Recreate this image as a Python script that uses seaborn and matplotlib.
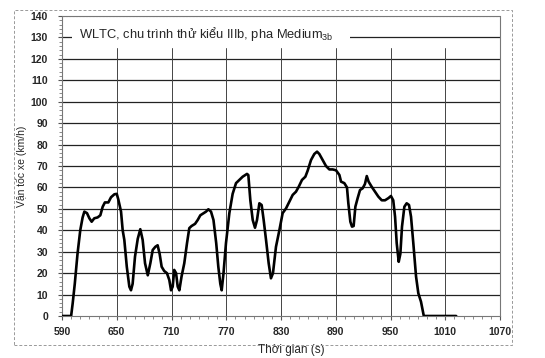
import numpy as np
import pandas as pd
import matplotlib
matplotlib.use("Agg")
import matplotlib.pyplot as plt
import seaborn as sns
from matplotlib.patches import Rectangle
from matplotlib.ticker import MultipleLocator

# --- DU LIEU (doc tu hinh) ---
time_s = [589, 600, 601.7, 604, 607, 610, 612.6, 614.5, 617.4, 620, 622.5, 625.4, 629, 632,
          634.6, 637, 640.8, 643.7, 647.4, 650, 651.7, 654.7, 656.5, 658.3, 661, 663.8, 665.6,
          667.4, 670, 673, 675.8, 678.4, 681, 684, 686.8, 689.4, 692.3, 694.8, 697, 699.2, 702,
          705, 707.6, 709.5, 711.3, 713, 715, 716.8, 718.6, 721, 724, 727, 729.5, 732, 735.8,
          738.7, 741.6, 745.3, 747.8, 750.4, 753.3, 756, 759, 761.3, 763.5, 765, 767, 769.7,
          773.4, 777, 780.7, 784.3, 788, 792.7, 794.2, 796.4, 799, 801.5, 803.7, 806.3, 808.8,
          811, 813.6, 816.5, 819, 821.2, 824.5, 828.2, 831.8, 835.5, 839.1, 842.8, 846.4, 849.4,
          853, 856.7, 859.2, 862.9, 866.5, 869.5, 872, 875.7, 879.3, 883, 886.6, 890.3, 894,
          895.8, 899.4, 902.3, 903.8, 906, 907.8, 909.6, 911.5, 914, 916.6, 919.5, 922, 924, 926,
          929.4, 933, 936.7, 940.4, 944, 947.7, 950.5, 953, 955, 956.8, 959, 960.8, 962.6, 965.2,
          967.7, 970.3, 972.5, 975, 978, 980.5, 983.4, 986.5, 1000, 1022]
speed_kmh = [0, 0, 5.9, 15, 29, 40, 46, 48.7, 48, 45.6, 44, 45.6, 46, 47,
             51, 53, 53, 55.4, 56.8, 57, 54.4, 48.7, 40, 35.5, 23, 13.7, 12,
             15, 27.7, 36, 40.5, 35.5, 24.6, 19, 24.6, 30.8, 32.3, 33, 29, 23, 21,
             20, 16.8, 12, 13.7, 21.5, 20, 13.7, 12, 18.4, 24.6, 34, 41, 42, 43,
             44.8, 47, 48, 48.7, 49.8, 48.7, 44.8, 34, 23, 15, 12, 20, 34,
             48, 57, 62, 63.5, 65, 66.3, 65.8, 54, 44.8, 41.2, 44.8, 52.6, 51.8,
             44.8, 35.5, 24.6, 17.6, 20, 32.3, 40, 48, 50.2, 53.3, 56.5, 58, 60.3,
             63.5, 65, 67.8, 72.8, 75.6, 76.7, 75.6, 72.8, 70, 68.4, 68.4, 68, 65.8,
             62.7, 62, 60, 52.6, 44, 41.7, 42, 51, 55, 58.8, 59.6, 61.6, 65.3, 62.7,
             60.3, 58, 55.7, 54, 54, 55, 56, 54, 46.3, 34, 25.3, 29, 41.7, 51,
             52.6, 51.8, 46.3, 34, 18.4, 10.6, 6.7, 0, 0, 0]
x_ticks = [590, 650, 710, 770, 830, 890, 950, 1010, 1070]
y_ticks = list(range(0, 150, 10))

TITLE = "WLTC, chu trình thử kiểu IIIb, pha Medium$_{\\mathregular{3b}}$"
X_LABEL = "Thời gian (s)"
Y_LABEL = "Vận tốc xe (km/h)"

df = pd.DataFrame({"t": time_s, "v": speed_kmh})

sns.set_style("white")
plt.rcParams['font.family'] = ['Liberation Sans', 'DejaVu Sans']

fig = plt.figure(figsize=(5.45, 3.58), dpi=100)
ax = fig.add_axes([62 / 545, 1 - 316 / 358, 438 / 545, 300 / 358])

# luoi
for y in y_ticks[1:-1]:
    ax.axhline(y, color="#222222", lw=0.9, zorder=1)
ax.axhline(140, color="#888888", lw=0.8, ls=(0, (2, 1)), zorder=1)
for x in x_ticks[1:-1]:
    ax.axvline(x, ymax=125 / 140, color="#444444", lw=0.7, zorder=1)

sns.lineplot(data=df, x="t", y="v", color="black", lw=1.9, ax=ax, zorder=4)

ax.set_xlim(590, 1070)
ax.set_ylim(0, 140)
ax.set_xticks(x_ticks)
ax.set_yticks(y_ticks)
ax.yaxis.set_minor_locator(MultipleLocator(2))
ax.xaxis.set_minor_locator(MultipleLocator(10))
ax.tick_params(axis="both", which="major", labelsize=7.5, length=3, color="#555555")
ax.tick_params(axis="y", which="major", pad=7)
ax.tick_params(axis="x", which="major", pad=5)
ax.tick_params(axis="both", which="minor", length=2, color="#777777")
ax.tick_params(axis="y", which="both", left=True, direction="out")
ax.tick_params(axis="x", which="both", bottom=True, direction="out")
for lab in ax.get_xticklabels() + ax.get_yticklabels():
    lab.set_fontweight("bold")

for side in ["left", "bottom", "right", "top"]:
    ax.spines[side].set_visible(True)
    ax.spines[side].set_color("#777777")
    ax.spines[side].set_linewidth(0.8)
    ax.spines[side].set_linestyle((0, (2, 1)))

ax.set_xlabel(X_LABEL, fontsize=8.5)
ax.xaxis.set_label_coords((291 - 62) / 438, -(344 - 316) / 300)
ax.yaxis.set_label_coords(-(62 - 27) / 438, 0.5)
ax.set_ylabel(Y_LABEL, fontsize=7.5)

# o tieu de
ax.add_patch(Rectangle((601, 125), 305, 14, facecolor="white", edgecolor="none", zorder=3))
ax.text(609, 131.5, TITLE, fontsize=9.3, va="center", ha="left", zorder=5)

# khung ngoai
fig.add_artist(Rectangle((14 / 545, 1 - 345 / 358), 498 / 545, 335 / 358,
                         transform=fig.transFigure, fill=False, edgecolor="#999999",
                         lw=0.7, ls=(0, (3, 2))))

fig.savefig("out.png", dpi=100)
